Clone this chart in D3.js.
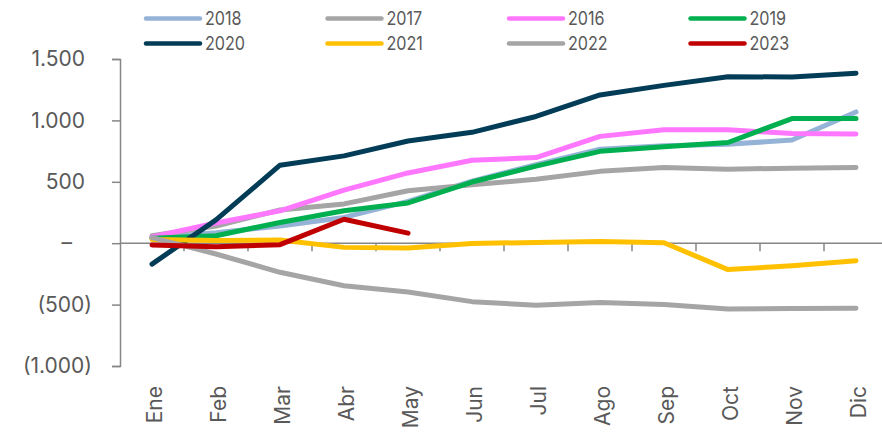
<!DOCTYPE html>
<html>
<head>
<meta charset="utf-8">
<script src="https://cdn.jsdelivr.net/npm/d3@7"></script>
<style>
  body { margin: 0; background: #fff; }
  text { font-family: Inter, "Noto Sans", sans-serif; fill: #595959; }
</style>
</head>
<body>
<div id="chart"></div>
<script>
const months = ['Ene', 'Feb', 'Mar', 'Abr', 'May', 'Jun', 'Jul', 'Ago', 'Sep', 'Oct', 'Nov', 'Dic'];
const yTicks = [-1000, -500, 0, 500, 1000, 1500];

// series, in legend order (also drawing order)
const years = ['2018', '2017', '2016', '2019', '2020', '2021', '2022', '2023'];
const v2018 = [45, 85, 140, 210, 340, 505, 640, 765, 793, 806, 840, 1069];
const v2017 = [60, 140, 270, 320, 427, 476, 520, 585, 617, 603, 611, 617];
const v2016 = [50, 165, 264, 432, 572, 675, 697, 870, 923, 923, 893, 890];
const v2019 = [40, 61, 169, 264, 328, 498, 628, 748, 785, 820, 1015, 1015];
const v2020 = [-170, 190, 635, 711, 832, 903, 1032, 1207, 1285, 1355, 1354, 1384];
const v2021 = [30, 22, 26, -34, -40, -2, 6, 14, 4, -215, -183, -142];
const v2022 = [45, -88, -237, -346, -397, -476, -505, -482, -500, -535, -532, -530];
const v2023 = [-15, -28, -12, 195, 82];
const colors = ['#95b3d7', '#a5a5a5', '#ff77ff', '#00b050', '#023c57', '#ffc000', '#a5a5a5', '#c00000'];

const series = years.map((y, i) => ({
  year: y,
  color: colors[i],
  values: [v2018, v2017, v2016, v2019, v2020, v2021, v2022, v2023][i]
}));

const width = 882, height = 433;
const margin = {top: 59, left: 120};
const plotRight = 888, plotBottom = 366;

const svg = d3.select('#chart').append('svg')
    .attr('width', width)
    .attr('height', height);

const x = d3.scaleBand()
    .domain(months)
    .range([margin.left, plotRight]);

const y = d3.scaleLinear()
    .domain([-1000, 1500])
    .range([plotBottom, margin.top]);

const fmt = d => d === 0 ? '–' : d < 0 ? `(${d3.format(',')(-d).replace(/,/g, '.')})` : d3.format(',')(d).replace(/,/g, '.');

// y axis
const yAxis = svg.append('g')
    .attr('transform', `translate(${margin.left},0)`)
    .call(d3.axisLeft(y).tickValues(yTicks).tickSize(8).tickSizeOuter(8).tickPadding(27).tickFormat(fmt));
yAxis.selectAll('path, line').attr('stroke', '#868686').attr('stroke-width', 1.5);
yAxis.selectAll('text')
    .attr('font-size', 21)
    .attr('font-family', 'Inter, sans-serif')
    .attr('fill', '#595959')
    .attr('dx', d => d < 0 ? 7 : d === 0 ? -13 : 0);

// x axis: line at zero, ticks between categories
const x0 = y(0);
const xAxis = svg.append('g');
xAxis.append('line')
    .attr('x1', margin.left).attr('x2', width)
    .attr('y1', x0).attr('y2', x0)
    .attr('stroke', '#868686').attr('stroke-width', 1.5);
xAxis.selectAll('.tick-mark')
    .data(months.slice(1))
  .join('line')
    .attr('class', 'tick-mark')
    .attr('x1', d => x(d)).attr('x2', d => x(d))
    .attr('y1', x0).attr('y2', x0 + 8)
    .attr('stroke', '#868686').attr('stroke-width', 1.5);

xAxis.selectAll('.x-label')
    .data(months)
  .join('text')
    .attr('class', 'x-label')
    .attr('transform', d => `translate(${x(d) + x.bandwidth() / 2},386) rotate(-90)`)
    .attr('text-anchor', 'end')
    .attr('dy', '0.47em')
    .attr('font-size', 21)
    .text(d => d);

// lines
const line = d3.line()
    .x((d, i) => x(months[i]) + x.bandwidth() / 2)
    .y(d => y(d));

svg.append('g')
  .selectAll('path')
    .data(series)
  .join('path')
    .attr('d', d => line(d.values))
    .attr('fill', 'none')
    .attr('stroke', d => d.color)
    .attr('stroke-width', 5)
    .attr('stroke-linejoin', 'round')
    .attr('stroke-linecap', 'round');

// legend, 4 columns x 2 rows
const legend = svg.append('g')
  .selectAll('g')
    .data(series)
  .join('g')
    .attr('transform', (d, i) => `translate(${146 + (i % 4) * 181.5},${18.5 + Math.floor(i / 4) * 25})`);

legend.append('line')
    .attr('x1', 0).attr('x2', 54)
    .attr('stroke', d => d.color)
    .attr('stroke-width', 4.5)
    .attr('stroke-linecap', 'round');

legend.append('text')
    .attr('transform', 'translate(59,0) scale(0.85,1)')
    .attr('dy', '0.36em')
    .attr('font-size', 19)
    .text(d => d.year);
</script>
</body>
</html>
